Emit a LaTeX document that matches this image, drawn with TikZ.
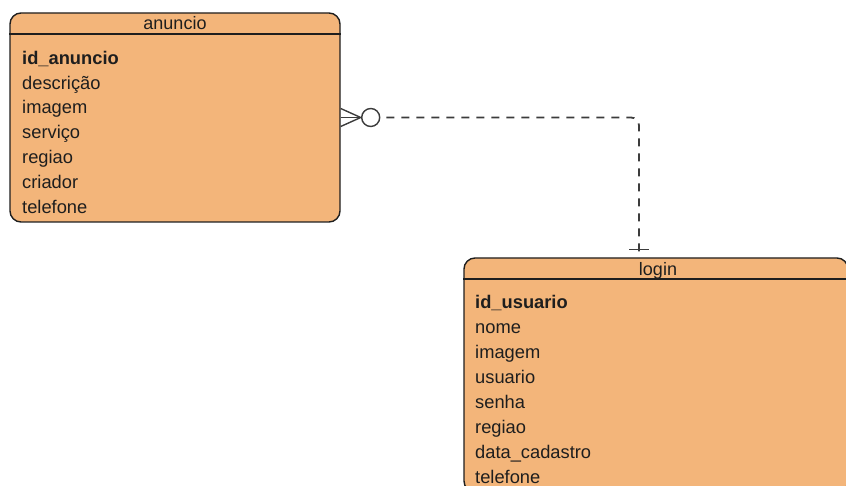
\documentclass[tikz,border=0pt]{standalone}
\usepackage{fontspec}
\setmainfont{Liberation Sans}
\definecolor{tblfill}{RGB}{243,181,122}
\definecolor{tblline}{RGB}{30,30,30}
\definecolor{txt}{RGB}{30,30,30}
\definecolor{connc}{RGB}{60,60,60}
\tikzset{
  tbl/.style={draw=tblline, fill=tblfill, line width=1.4pt, rounded corners=11pt, inner sep=0pt},
  hdr/.style={font=\fontsize{18}{20}\selectfont, text=txt, inner sep=0pt, anchor=base},
  fld/.style={font=\fontsize{18.3}{20}\selectfont, text=txt, inner sep=0pt, anchor=base west},
  key/.style={fld, font=\fontsize{18.3}{20}\selectfont\bfseries},
  conn/.style={draw=connc, line width=1.4pt},
  dashconn/.style={draw=connc, line width=1.8pt, dash pattern=on 8pt off 7pt, rounded corners=8pt}
}
\begin{document}
\begin{tikzpicture}[x=1pt,y=-1pt]
\useasboundingbox (0,0) rectangle (846,486);
\clip (0,0) rectangle (846,486);
% anuncio table
\node[tbl, minimum width=330pt, minimum height=209pt] (anuncio) at (175,117.5) {};
\draw[tblline, line width=1.4pt] (anuncio.west |- 0,34) -- (anuncio.east |- 0,34);
\node[hdr] (anuncioT) at (175,30) {anuncio};
\node[key] (a1) at (22,64.5) {id\_anuncio};
\node[fld] (a2) at (22,89.5) {descrição};
\node[fld] (a3) at (22,113.5) {imagem};
\node[fld] (a4) at (22,138.5) {serviço};
\node[fld] (a5) at (22,163.5) {regiao};
\node[fld] (a6) at (22,188.5) {criador};
\node[fld] (a7) at (22,213.5) {telefone};
% login table
\node[tbl, minimum width=384pt, minimum height=234pt] (login) at (656,375) {};
\draw[tblline, line width=1.4pt] (login.west |- 0,279) -- (login.east |- 0,279);
\node[hdr] (loginT) at (658,276) {login};
\node[key] (l1) at (475,308.5) {id\_usuario};
\node[fld] (l2) at (475,333.5) {nome};
\node[fld] (l3) at (475,358.5) {imagem};
\node[fld] (l4) at (475,383.5) {usuario};
\node[fld] (l5) at (475,408.5) {senha};
\node[fld] (l6) at (475,433.5) {regiao};
\node[fld] (l7) at (475,458.5) {data\_cadastro};
\node[fld] (l8) at (475,483.5) {telefone};
% connector
\coordinate (cs) at (anuncio.east);
\coordinate (ce) at ([xshift=-17pt]login.north);
\coordinate (tip) at ([xshift=20pt]cs);
\node[circle, draw=connc, line width=1.4pt, fill=white, minimum size=18pt, inner sep=0pt] (circ) at ([xshift=30pt]cs) {};
\draw[conn] ([yshift=9pt]cs) -- (tip) -- ([yshift=-9pt]cs);
\draw[conn] (cs) -- (circ.west);
\draw[dashconn] ([xshift=6pt]circ.east) -- (ce |- circ.east) -- (ce);
\draw[conn] ([xshift=-10pt,yshift=8pt]ce) -- ([xshift=10pt,yshift=8pt]ce);
\end{tikzpicture}
\end{document}
